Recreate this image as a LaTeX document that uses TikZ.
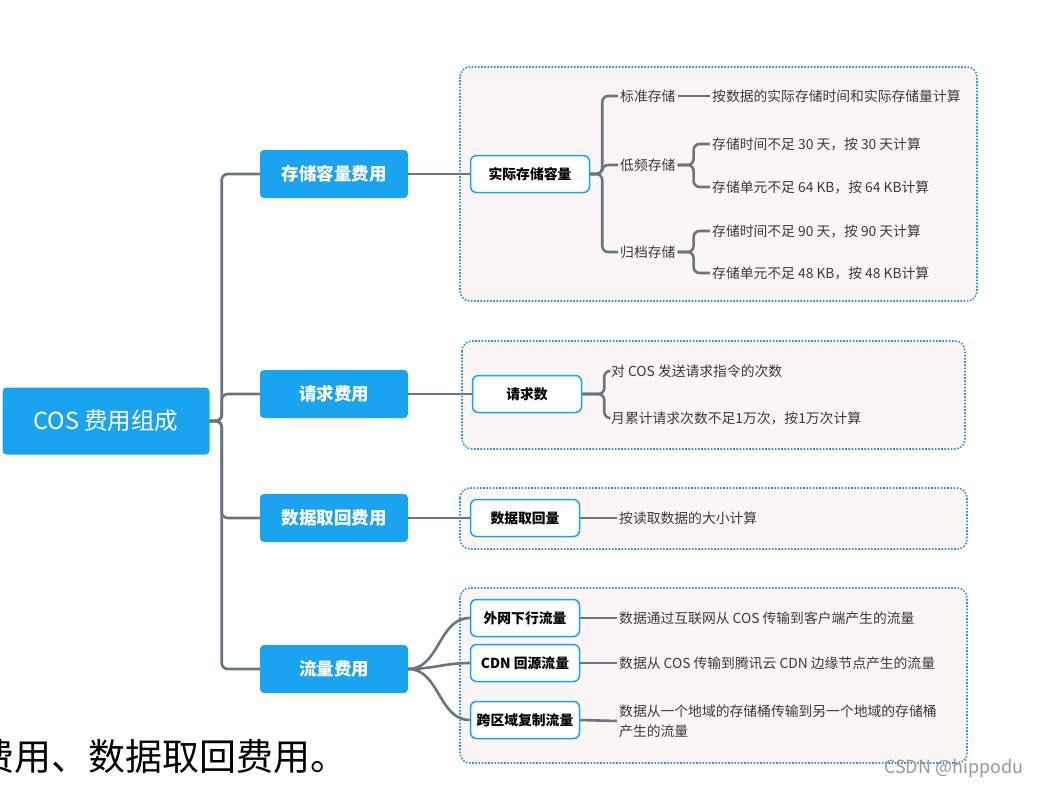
\documentclass[tikz,border=0pt]{standalone}
\usepackage{fontspec}
\setmainfont{Noto Sans CJK SC}
\usepackage{tikz}
\usetikzlibrary{positioning}
\newcommand{\setfs}[1]{\fontsize{#1}{#1}\selectfont}
\definecolor{cosblue}{RGB}{26,163,238}
\definecolor{linegray}{RGB}{108,116,126}
\definecolor{dotblue}{RGB}{40,150,212}
\definecolor{panel}{RGB}{251,245,245}
\definecolor{txtgray}{RGB}{58,58,58}

\begin{document}
\begin{tikzpicture}[x=1pt, y=-1pt,
  basic/.style    = {rectangle, inner sep=2pt, align=center},
  root/.style     = {basic, fill=cosblue, text=white, rounded corners=4pt, minimum width=207pt, minimum height=67pt, font=\setfs{23.5}},
  lvone/.style    = {basic, fill=cosblue, text=white, rounded corners=4pt, minimum width=148pt, minimum height=48pt, font=\setfs{17.5}\bfseries},
  lvtwo/.style    = {basic, draw=cosblue, fill=white, line width=1.5pt, rounded corners=6pt, minimum width=109pt, minimum height=37pt, font=\setfs{13.8}\bfseries},
  leaf/.style     = {basic, anchor=west, text=txtgray, align=left, font=\fontsize{13.8}{20}\selectfont},
  panelbox/.style = {draw=dotblue, fill=panel, line width=1.6pt, dash pattern=on 1.6pt off 1.6pt, rounded corners=10pt},
  link/.style     = {draw=linegray, line width=2.6pt, rounded corners=6pt}]

\useasboundingbox (0,0) rectangle (1038,789);
\fill[white] (0,0) rectangle (1038,789);
\clip (0,0) rectangle (1038,789);

% dotted panels behind the second and third levels
\draw[panelbox] (460,67) rectangle (977,301);
\draw[panelbox] (462,341) rectangle (965,449);
\draw[panelbox] (460,488) rectangle (967,549);
\draw[panelbox] (460,588) rectangle (967,763);

% root and first level
\node[root] (cos) at (106,421) {COS 费用组成};
\node[lvone] (c1) at (334,174) {存储容量费用};
\node[lvone] (c2) at (334,394) {请求费用};
\node[lvone] (c3) at (334,518) {数据取回费用};
\node[lvone] (c4) at (334,669) {流量费用};

% second level
\node[lvtwo, minimum width=119pt] (c11) at (530,174) {实际存储容量};
\node[lvtwo] (c21) at (527,394) {请求数};
\node[lvtwo] (c31) at (525,518) {数据取回量};
\node[lvtwo] (c41) at (525,618) {外网下行流量};
\node[lvtwo] (c42) at (525,663) {CDN 回源流量};
\node[lvtwo] (c43) at (525,720) {跨区域复制流量};

% third level and descriptions
\node[leaf] (c111) at (618,96) {标准存储};
\node[leaf] (c112) at (618,165) {低频存储};
\node[leaf] (c113) at (618,252) {归档存储};
\node[leaf] (c1111) at (710,96) {按数据的实际存储时间和实际存储量计算};
\node[leaf] (c1121) at (710,144) {存储时间不足 30 天，按 30 天计算};
\node[leaf] (c1122) at (710,187) {存储单元不足 64 KB，按 64 KB计算};
\node[leaf] (c1131) at (710,231) {存储时间不足 90 天，按 90 天计算};
\node[leaf] (c1132) at (710,273) {存储单元不足 48 KB，按 48 KB计算};

\node[leaf] (c211) at (609,371) {对 COS 发送请求指令的次数};
\node[leaf] (c212) at (609,418) {月累计请求次数不足1万次，按1万次计算};

\node[leaf] (c311) at (617,518) {按读取数据的大小计算};

\node[leaf] (c411) at (617,618) {数据通过互联网从 COS 传输到客户端产生的流量};
\node[leaf] (c421) at (617,663) {数据从 COS 传输到腾讯云 CDN 边缘节点产生的流量};
\node[leaf] (c431) at (617,721) {数据从一个地域的存储桶传输到另一个地域的存储桶\\产生的流量};

%------------------------------- connectors -------------------------------
\foreach \value in {1,2,3,4}
  \draw[link] (cos.east) -- ++(12,0) |- (c\value.west);

\foreach \value in {1,2,3}
  \draw[link] (c\value.east) -- (c\value1.west);

\foreach \value in {1,2,3}
  \draw[link] (c11.east) -- ++(12,0) |- (c11\value.west);
\draw[link] (c111.east) -- (c1111.west);
\foreach \value in {1,2}
  \draw[link] (c112.east) -- ++(16,0) |- (c112\value.west);
\foreach \value in {1,2}
  \draw[link] (c113.east) -- ++(16,0) |- (c113\value.west);

\foreach \value in {1,2}
  \draw[link] (c21.east) -- ++(22,0) |- (c21\value.west);

\draw[link] (c31.east) -- (c311.west);

\foreach \value in {1,2,3}
  \draw[link] (c4.east) to[out=0, in=180] (c4\value.west);
\foreach \value in {1,2,3}
  \draw[link] (c4\value.east) -- (c4\value1.west);

% slide text and watermark
\node[anchor=west, font=\setfs{37}] (note) at (-26,757) {费用、数据取回费用。};
\node[anchor=east, text=gray!80, font=\setfs{18}] (mark) at (1027,768) {CSDN @hippodu};
\end{tikzpicture}
\end{document}
